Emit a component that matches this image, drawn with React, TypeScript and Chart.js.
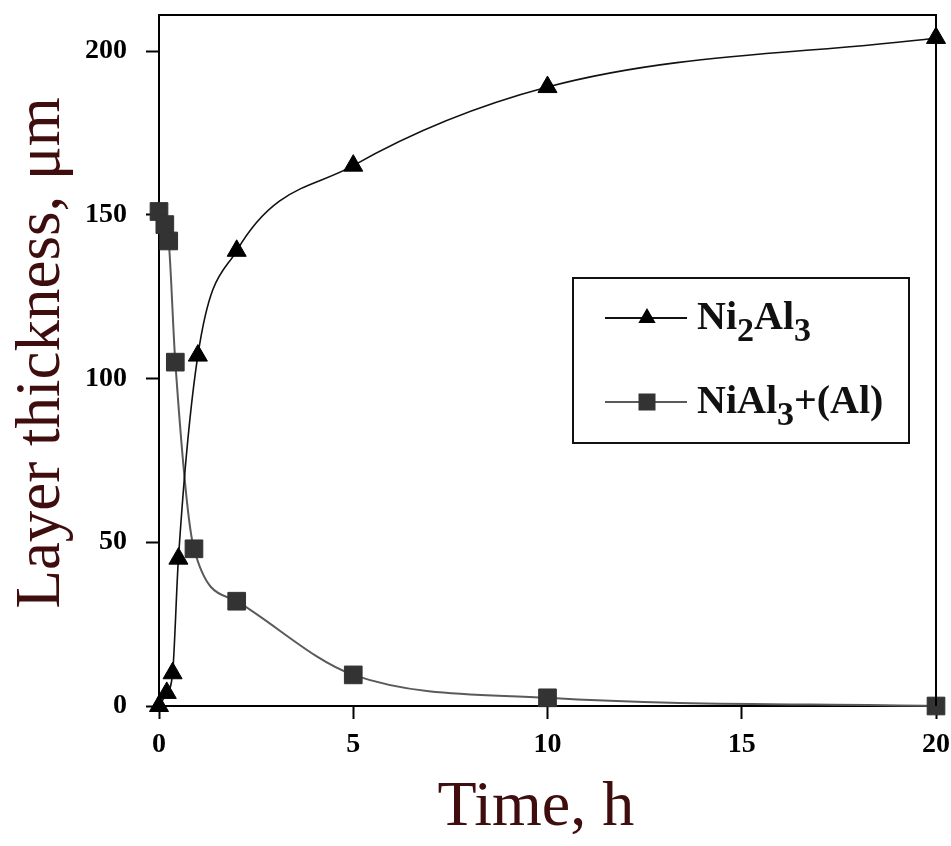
import React, { useEffect, useRef } from "react";
import { Chart, registerables } from "chart.js";

Chart.register(...registerables);

// ---- data ----
const ni2al3Times = [0, 0.2, 0.35, 0.5, 1, 2, 5, 10, 20];
const ni2al3Values = [0, 4, 10, 45, 107, 139, 165, 189, 204];

const nial3Times = [0, 0.15, 0.25, 0.42, 0.9, 2, 5, 10, 20];
const nial3Values = [151, 147, 142, 105, 48, 32, 9.5, 2.5, 0];

const xTicks = [0, 5, 10, 15, 20];
const yTicks = [0, 50, 100, 150, 200];

const xTitle = "Time, h";
const yTitle = "Layer thickness, μm";

// legend entries: text segments [text, isSubscript]
const legendEntries: { parts: [string, boolean][]; style: string }[] = [
  { parts: [["Ni", false], ["2", true], ["Al", false], ["3", true]], style: "triangle" },
  { parts: [["NiAl", false], ["3", true], ["+(Al)", false]], style: "rect" },
];

const SERIF = "'Liberation Serif', 'DejaVu Serif', serif";
const TITLE_COLOR = "#3f0d0d";

const frameAndLegend = {
  id: "frameAndLegend",
  afterDraw(chart: any) {
    const { ctx, chartArea } = chart;
    ctx.save();
    // top and right frame
    ctx.strokeStyle = "#000";
    ctx.lineWidth = 2;
    ctx.beginPath();
    ctx.moveTo(chartArea.left, chartArea.top);
    ctx.lineTo(chartArea.right, chartArea.top);
    ctx.lineTo(chartArea.right, chartArea.bottom);
    ctx.stroke();

    // axis titles
    ctx.fillStyle = TITLE_COLOR;
    ctx.textAlign = "center";
    ctx.textBaseline = "middle";
    ctx.font = `64px ${SERIF}`;
    ctx.fillText(xTitle, chartArea.left + (chartArea.right - chartArea.left) * 0.485, 808);
    ctx.save();
    ctx.translate(42, chartArea.top + (chartArea.bottom - chartArea.top) * 0.489);
    ctx.rotate(-Math.PI / 2);
    ctx.font = `63px ${SERIF}`;
    ctx.fillText(yTitle, 0, 0);
    ctx.restore();

    // legend box
    const bx = 573, by = 278, bw = 336, bh = 165;
    ctx.lineWidth = 2;
    ctx.strokeStyle = "#111";
    ctx.strokeRect(bx, by, bw, bh);

    const ds = chart.data.datasets;
    const rows = [318, 402];
    legendEntries.forEach((entry, i) => {
      const y = rows[i];
      const d = ds[i];
      ctx.strokeStyle = d.borderColor;
      ctx.lineWidth = 2;
      ctx.beginPath();
      ctx.moveTo(605, y);
      ctx.lineTo(687, y);
      ctx.stroke();
      ctx.fillStyle = d.pointBackgroundColor;
      ctx.strokeStyle = d.pointBorderColor;
      ctx.beginPath();
      if (entry.style === "triangle") {
        const r = 10;
        ctx.moveTo(647, y - r);
        ctx.lineTo(647 + r * 0.866, y + r / 2);
        ctx.lineTo(647 - r * 0.866, y + r / 2);
        ctx.closePath();
      } else {
        const s = 8.5;
        ctx.rect(647 - s, y - s, 2 * s, 2 * s);
      }
      ctx.fill();

      // text
      let tx = 697;
      const base = y + 11;
      ctx.fillStyle = "#111";
      ctx.textBaseline = "alphabetic";
      ctx.textAlign = "left";
      entry.parts.forEach(([t, sub]) => {
        ctx.font = sub ? `bold 34px ${SERIF}` : `bold 40px ${SERIF}`;
        ctx.fillText(t, tx, sub ? base + 12 : base);
        tx += ctx.measureText(t).width;
      });
    });
    ctx.restore();
  },
};

export default function App() {
  const canvasRef = useRef<HTMLCanvasElement | null>(null);

  useEffect(() => {
    document.body.style.margin = "0";
    const canvas = canvasRef.current;
    if (!canvas) return;

    const chart = new Chart(canvas, {
      type: "line",
      data: {
        datasets: [
          {
            label: "Ni2Al3",
            data: ni2al3Times.map((t, i) => ({ x: t, y: ni2al3Values[i] })),
            borderColor: "#111",
            borderWidth: 1.6,
            pointStyle: "triangle",
            pointRadius: 11,
            pointBackgroundColor: "#000",
            pointBorderColor: "#000",
            pointBorderWidth: 1,
            cubicInterpolationMode: "monotone",
            clip: false,
          },
          {
            label: "NiAl3+(Al)",
            data: nial3Times.map((t, i) => ({ x: t, y: nial3Values[i] })),
            borderColor: "#5a5a5a",
            borderWidth: 2,
            pointStyle: "rect",
            pointRadius: 12.5,
            pointBackgroundColor: "#333",
            pointBorderColor: "#333",
            pointBorderWidth: 1,
            cubicInterpolationMode: "monotone",
            clip: false,
          },
        ],
      },
      options: {
        animation: false,
        responsive: false,
        maintainAspectRatio: false,
        layout: { padding: { top: 15, right: 15, left: 0, bottom: 0 } },
        plugins: {
          legend: { display: false },
          tooltip: { enabled: false },
        },
        scales: {
          x: {
            type: "linear",
            min: 0,
            max: 20,
            afterBuildTicks: (s: any) => {
              s.ticks = xTicks.map((v) => ({ value: v }));
            },
            afterFit: (s: any) => {
              s.height = 140;
              s.paddingLeft = 0;
              s.paddingRight = 0;
            },
            grid: {
              drawOnChartArea: false,
              drawTicks: true,
              tickLength: 13,
              tickColor: "#000",
              tickWidth: 2,
            },
            border: { color: "#000", width: 2 },
            ticks: {
              color: "#000",
              padding: 9,
              maxRotation: 0,
              font: { family: SERIF, size: 28, weight: "bold" },
            },
            title: { display: false },
          },
          y: {
            type: "linear",
            min: 0,
            max: 211,
            afterBuildTicks: (s: any) => {
              s.ticks = yTicks.map((v) => ({ value: v }));
            },
            afterFit: (s: any) => {
              s.width = 159;
              s.paddingTop = 0;
              s.paddingBottom = 0;
            },
            grid: {
              drawOnChartArea: false,
              drawTicks: true,
              tickLength: 13,
              tickColor: "#000",
              tickWidth: 2,
            },
            border: { color: "#000", width: 2 },
            ticks: {
              color: "#000",
              padding: 19,
              font: { family: SERIF, size: 28, weight: "bold" },
            },
            title: { display: false },
          },
        },
      },
      plugins: [frameAndLegend],
    } as any);

    return () => chart.destroy();
  }, []);

  return (
    <div style={{ width: 951, height: 846 }}>
      <canvas ref={canvasRef} width={951} height={846} style={{ width: 951, height: 846, display: "block" }} />
    </div>
  );
}
